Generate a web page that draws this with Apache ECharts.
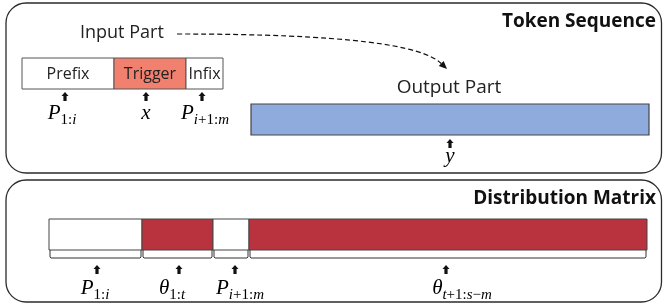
<!DOCTYPE html>
<html><head><meta charset="utf-8">
<script src="https://cdn.jsdelivr.net/npm/echarts@6/dist/echarts.min.js"></script>
<style>html,body{margin:0;padding:0;background:#fff}#c{width:663px;height:303px}</style>
</head><body><div id="c"></div>
<script>
// ---------- data ----------
const panelTitles = ['Token Sequence', 'Distribution Matrix'];
const panelTops = [3, 180];
const panelBottoms = [173, 302];

const inputLabels = ['Prefix', 'Trigger', 'Infix'];
const inputBounds = [22, 114, 186, 223];
const inputMath = ['P_1:i', 'x', 'P_i+1:m'];
const inputArrowX = [65, 146, 202];
const inputMathX = [62, 146, 205];

const outputLabel = 'Output Part';
const outputBounds = [251, 649];
const outputMath = 'y';
const outputArrowX = 450;

const matrixKinds = ['P', 'θ', 'P', 'θ'];
const matrixBounds = [49, 142, 213, 249, 647];
const matrixMath = ['P_1:i', 'θ_1:t', 'P_i+1:m', 'θ_t+1:s−m'];
const matrixArrowX = [97, 179, 235, 446];
const matrixMathX = [95, 172, 240, 462];

// ---------- layout / style ----------
const W = 663, H = 303;
const PANEL_L = 6, PANEL_R = 661.5;
const IN_Y = [58, 89], OUT_Y = [104, 135], MAT_Y = [219, 250];
const TRIGGER_COLOR = '#F2806E', OUT_COLOR = '#8FAADC', THETA_COLOR = '#B8333D';
const SANS = '"Open Sans", Lato, sans-serif';
const SERIF = '"Liberation Serif", "DejaVu Serif", serif';

const richMath = {
  m: {fontFamily: SERIF, fontStyle: 'italic', fontSize: 21, color: '#111', padding: [0, 0, 4, 0], verticalAlign: 'bottom'},
  si: {fontFamily: SERIF, fontStyle: 'italic', fontSize: 15, color: '#111', verticalAlign: 'bottom'},
  sn: {fontFamily: SERIF, fontSize: 15, color: '#111', verticalAlign: 'bottom'}
};
function mathText(s) {
  const [main, sub] = s.split('_');
  let out = '{m|' + main + '}';
  if (sub) {
    let cur = null, buf = '';
    for (const ch of sub) {
      const t = /[a-zA-Z]/.test(ch) ? 'si' : 'sn';
      if (t !== cur && buf) { out += '{' + cur + '|' + buf + '}'; buf = ''; }
      cur = t; buf += ch;
    }
    if (buf) out += '{' + cur + '|' + buf + '}';
  }
  return out;
}
function arrowShape(api, x, y) {
  const p = api.coord([x, y]);
  const cx = p[0], t = p[1];
  return {type: 'polygon', shape: {points: [
    [cx, t], [cx + 3.5, t + 4], [cx + 1.6, t + 4], [cx + 1.6, t + 9], [cx - 1.6, t + 9], [cx - 1.6, t + 4], [cx - 3.5, t + 4]
  ]}, style: {fill: '#111'}};
}
function mathLabel(api, x, y, s) {
  const p = api.coord([x, y]);
  return {type: 'text', x: p[0], y: p[1], style: {text: mathText(s), rich: richMath, align: 'center', verticalAlign: 'middle'}};
}
function rectEl(api, x0, y0, x1, y1, fill, stroke, lw, r) {
  const a = api.coord([x0, y0]), b = api.coord([x1, y1]);
  return {type: 'rect', shape: {x: a[0], y: a[1], width: b[0] - a[0], height: b[1] - a[1], r: r || 0},
    style: {fill: fill, stroke: stroke, lineWidth: lw}};
}

const chart = echarts.init(document.getElementById('c'), null, {renderer: 'canvas'});
chart.setOption({
  animation: false,
  backgroundColor: '#fff',
  grid: {left: 0, right: 0, top: 0, bottom: 0},
  xAxis: {type: 'value', min: 0, max: W, show: false},
  yAxis: {type: 'value', min: 0, max: H, inverse: true, show: false},
  series: [
    { // panels
      type: 'custom', coordinateSystem: 'cartesian2d',
      data: panelTitles.map((t, i) => [i, panelTops[i], panelBottoms[i]]),
      renderItem: (params, api) => {
        const i = api.value(0), y0 = api.value(1), y1 = api.value(2);
        const tp = api.coord([656, y0 + 19]);
        return {type: 'group', children: [
          rectEl(api, PANEL_L, y0, PANEL_R, y1, 'none', '#2b2b2b', 1.3, 20),
          {type: 'text', x: tp[0], y: tp[1], style: {text: panelTitles[i], fontFamily: SANS, fontWeight: 'bold', fontSize: 19, fill: '#111', align: 'right', verticalAlign: 'middle'}}
        ]};
      }
    },
    { // input segments
      type: 'custom', coordinateSystem: 'cartesian2d',
      data: inputLabels.map((l, i) => [inputBounds[i], inputBounds[i + 1], i]),
      renderItem: (params, api) => {
        const x0 = api.value(0), x1 = api.value(1), i = api.value(2);
        const c = api.coord([(x0 + x1) / 2, (IN_Y[0] + IN_Y[1]) / 2 + 1]);
        return {type: 'group', children: [
          rectEl(api, x0, IN_Y[0], x1, IN_Y[1], i === 1 ? TRIGGER_COLOR : '#fff', '#555', 1),
          {type: 'text', x: c[0], y: c[1], style: {text: inputLabels[i], fontFamily: SANS, fontSize: 16, fill: '#222', align: 'center', verticalAlign: 'middle'}},
          arrowShape(api, inputArrowX[i], 92),
          mathLabel(api, inputMathX[i], 115, inputMath[i])
        ]};
      }
    },
    { // output bar
      type: 'custom', coordinateSystem: 'cartesian2d',
      data: [[outputBounds[0], outputBounds[1]]],
      renderItem: (params, api) => {
        const x0 = api.value(0), x1 = api.value(1);
        const t = api.coord([449, 88]);
        return {type: 'group', children: [
          rectEl(api, x0, OUT_Y[0], x1, OUT_Y[1], OUT_COLOR, '#444', 1.2),
          {type: 'text', x: t[0], y: t[1], style: {text: outputLabel, fontFamily: SANS, fontSize: 19, fill: '#222', align: 'center', verticalAlign: 'middle'}},
          arrowShape(api, outputArrowX, 139),
          mathLabel(api, outputArrowX, 158, outputMath)
        ]};
      }
    },
    { // input part label + dashed curve
      type: 'custom', coordinateSystem: 'cartesian2d',
      data: [[80, 33, 447, 69]],
      renderItem: (params, api) => {
        const s = api.coord([api.value(0), api.value(1)]);
        const e = api.coord([api.value(2), api.value(3)]);
        const p0 = [s[0] + 97, s[1] + 1];
        const c1 = [p0[0] + 170, p0[1]];
        const c2 = [e[0] - 25, e[1] - 24];
        const ang = Math.atan2(e[1] - c2[1], e[0] - c2[0]);
        const L = 8, Wd = 3.5;
        const bx = e[0] - L * Math.cos(ang), by = e[1] - L * Math.sin(ang);
        const nx = -Math.sin(ang) * Wd, ny = Math.cos(ang) * Wd;
        return {type: 'group', children: [
          {type: 'text', x: s[0], y: s[1], style: {text: 'Input Part', fontFamily: SANS, fontSize: 18, fill: '#222', align: 'left', verticalAlign: 'middle'}},
          {type: 'bezierCurve', shape: {x1: p0[0], y1: p0[1], cpx1: c1[0], cpy1: c1[1], cpx2: c2[0], cpy2: c2[1], x2: bx, y2: by},
            style: {stroke: '#111', lineWidth: 1.2, lineDash: [5, 3], fill: 'none'}},
          {type: 'polygon', shape: {points: [[e[0], e[1]], [bx + nx, by + ny], [bx - nx, by - ny]]}, style: {fill: '#111'}}
        ]};
      }
    },
    { // distribution matrix
      type: 'custom', coordinateSystem: 'cartesian2d',
      data: matrixKinds.map((k, i) => [matrixBounds[i], matrixBounds[i + 1], i]),
      renderItem: (params, api) => {
        const x0 = api.value(0), x1 = api.value(1), i = api.value(2);
        const a = api.coord([x0, MAT_Y[1]]), b = api.coord([x1, MAT_Y[1] + 8]);
        return {type: 'group', children: [
          rectEl(api, x0, MAT_Y[0], x1, MAT_Y[1], matrixKinds[i] === 'θ' ? THETA_COLOR : '#fff', '#444', 1),
          {type: 'polyline', shape: {points: [[a[0] + 1, a[1]], [a[0] + 1, b[1] - 1], [a[0] + 2, b[1]], [b[0] - 2, b[1]], [b[0] - 1, b[1] - 1], [b[0] - 1, a[1]]]},
            style: {stroke: '#333', lineWidth: 1, fill: 'none'}},
          arrowShape(api, matrixArrowX[i], 265),
          mathLabel(api, matrixMathX[i], 290, matrixMath[i])
        ]};
      }
    }
  ]
});
</script></body></html>
